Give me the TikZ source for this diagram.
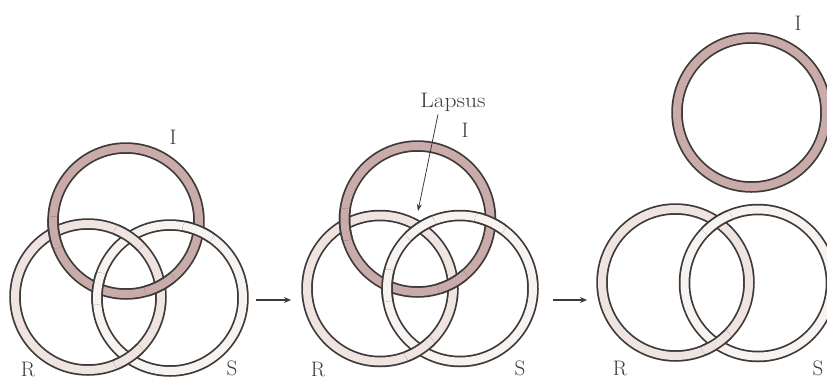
\documentclass[tikz,border=0pt]{standalone}
\usetikzlibrary{arrows.meta}
\definecolor{ringline}{RGB}{62,58,58}
\definecolor{ringI}{RGB}{201,172,169}
\definecolor{ringR}{RGB}{240,228,225}
\definecolor{ringS}{RGB}{247,243,240}
\definecolor{txt}{RGB}{62,58,58}
\newcommand\myring[3]{%
  \draw[line width=11.5pt, draw=ringline] (#1) circle (#2pt);
  \draw[line width=8pt, draw=#3] (#1) circle (#2pt);}
\newcommand\myover[4]{%
  \begin{scope}\clip (#4) circle (16pt); \myring{#1}{#2}{#3}\end{scope}}
\tikzset{lab/.style={text=txt, font=\fontsize{21}{24}\selectfont, inner sep=0pt},
  steparrow/.style={draw=txt, line width=1.1pt, -{Stealth[length=7pt,width=6pt]}},
  laparrow/.style={draw=txt, line width=0.8pt, -{Stealth[length=7pt,width=5pt]}}}
\begin{document}
\begin{tikzpicture}[x=1pt,y=-1pt]
\useasboundingbox (0,0) rectangle (827,381);
\fill[white] (0,0) rectangle (827,381);
% ---------- panel 1 ----------
\coordinate (I1) at (126,221);
\coordinate (R1) at (88,297);
\coordinate (S1) at (170,298);
\myring{R1}{73}{ringR}
\myring{S1}{73}{ringS}
\myring{I1}{73}{ringI}
% I over R
\myover{I1}{73}{ringI}{160.1,285.5}
\myover{I1}{73}{ringI}{53.9,232.5}
% R over S
\myover{R1}{73}{ringR}{129,237.1}
\myover{R1}{73}{ringR}{129,357.9}
% S over I
\myover{S1}{73}{ringS}{198.3,230.7}
\myover{S1}{73}{ringS}{97.7,288.3}
\node[lab] (tI1) at (173,137) {I};
\node[lab] (tR1) at (28,369) {R};
\node[lab] (tS1) at (232,368) {S};
% ---------- panel 2 ----------
\coordinate (I2) at (417.5,219);
\coordinate (R2) at (380,288.5);
\coordinate (S2) at (460,288.5);
\myring{R2}{73}{ringR}
\myring{S2}{73}{ringS}
\myring{I2}{73}{ringI}
% I over R
\myover{I2}{73}{ringI}{452.8,282.9}
\myover{I2}{73}{ringI}{344.7,224.6}
% S over I
\myover{S2}{73}{ringS}{490.4,222.1}
\myover{S2}{73}{ringS}{387.1,285.4}
% R/S: top S over R (lapsus), bottom R over S
\myover{S2}{73}{ringS}{420,227.4}
\myover{R2}{73}{ringR}{420,349.6}
\node[lab] (tI2) at (465,130) {I};
\node[lab] (tR2) at (318,369) {R};
\node[lab] (tS2) at (520,368) {S};
\node[lab, xscale=1.12] (lap) at (453,102) {Lapsus};
\coordinate (lapend) at (418,211);
\draw[laparrow] (lap.south) ++(-15,3) coordinate (lapstart) -- (lapend);
% ---------- panel 3 ----------
\coordinate (I3) at (751.5,112.5);
\coordinate (R3) at (675.5,282.5);
\coordinate (S3) at (758,283);
\myring{I3}{74.5}{ringI}
\myring{R3}{73.5}{ringR}
\myring{S3}{73.5}{ringS}
\myover{S3}{73.5}{ringS}{716.75,222}
\myover{R3}{73.5}{ringR}{716.75,343.5}
\node[lab] (tI3) at (798,23) {I};
\node[lab] (tR3) at (620,368) {R};
\node[lab] (tS3) at (818,368) {S};
% ---------- step arrows ----------
\coordinate (a1s) at (256,300);
\coordinate (a1e) at (291,300);
\coordinate (a2s) at (553,300);
\coordinate (a2e) at (587,300);
\draw[steparrow] (a1s) -- (a1e);
\draw[steparrow] (a2s) -- (a2e);
\end{tikzpicture}
\end{document}
